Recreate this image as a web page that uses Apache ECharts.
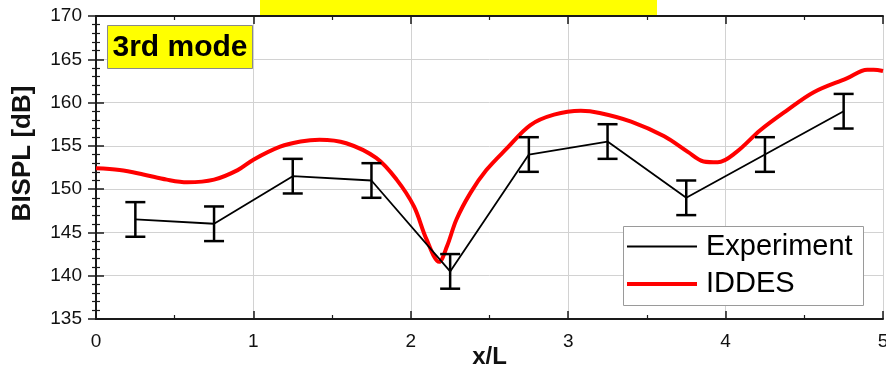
<!DOCTYPE html>
<html>
<head>
<meta charset="utf-8">
<script src="https://cdn.jsdelivr.net/npm/echarts@6/dist/echarts.min.js"></script>
<style>
html,body{margin:0;padding:0;background:#fff;}
#c{width:886px;height:368px;}
</style>
</head>
<body>
<div id="c"></div>
<script>
// ---- data ----
const expX = [0.25, 0.75, 1.25, 1.75, 2.25, 2.75, 3.25, 3.75, 4.25, 4.75];
const expY = [146.5, 146.0, 151.5, 151.0, 140.5, 154.0, 155.5, 149.0, 154.0, 159.0];
const expErr = [2, 2, 2, 2, 2, 2, 2, 2, 2, 2];
const iddesX = [0, 0.15, 0.3, 0.45, 0.58, 0.75, 0.9, 1.0, 1.17, 1.3, 1.42, 1.59, 1.78, 1.91, 2.02, 2.10, 2.18, 2.23, 2.29, 2.38, 2.48, 2.61, 2.76, 2.91, 3.08, 3.2, 3.4, 3.61, 3.76, 3.86, 3.95, 4.07, 4.22, 4.39, 4.56, 4.77, 4.9, 4.94, 5.0];
const iddesY = [152.4, 152.2, 151.7, 151.1, 150.8, 151.1, 152.2, 153.4, 154.9, 155.5, 155.7, 155.3, 153.6, 151.1, 148.0, 144.2, 141.6, 143.4, 146.5, 149.6, 152.2, 154.7, 157.4, 158.6, 159.05, 158.8, 157.8, 156.1, 154.3, 153.2, 153.1, 154.3, 156.8, 159.1, 161.2, 162.8, 163.8, 163.8, 163.65];
const xTicks = ['0', '1', '2', '3', '4', '5'];
const yTicks = ['135', '140', '145', '150', '155', '160', '165', '170'];
const seriesNames = ['Experiment', 'IDDES'];
const panelLabel = '3rd mode';
const xName = 'x/L';
const yName = 'BISPL [dB]';

const FONT = '"Liberation Sans", Arial, sans-serif';
const chart = echarts.init(document.getElementById('c'), null, {renderer: 'canvas'});

const expData = expX.map((x, i) => [x, expY[i]]);
const errData = expX.map((x, i) => [x, expY[i] - expErr[i], expY[i] + expErr[i]]);
const iddesData = iddesX.map((x, i) => [x, iddesY[i]]);

const axisLine = {show: true, lineStyle: {color: '#1a1a1a', width: 2}};
const tickStyle = {show: true, inside: true, length: 8, lineStyle: {color: '#1a1a1a', width: 1.5}};
const minorTick = (n) => ({show: true, splitNumber: n, length: 4, lineStyle: {color: '#1a1a1a', width: 1.2}});

chart.setOption({
  animation: false,
  backgroundColor: '#fff',
  grid: {left: 96, right: 3, top: 16, bottom: 49, containLabel: false, outerBoundsMode: 'none'},
  xAxis: [
    {
      type: 'value', min: 0, max: 5, interval: 1, position: 'bottom',
      axisLine: axisLine, axisTick: tickStyle, minorTick: minorTick(2),
      splitLine: {show: true, lineStyle: {color: '#d2d2d2', width: 1}},
      axisLabel: {color: '#111', fontSize: 19, fontFamily: FONT, margin: 13,
        formatter: (v) => xTicks[Math.round(v)]},
      name: xName, nameLocation: 'middle', nameGap: 26, nameMoveOverlap: false,
      nameTextStyle: {color: '#111', fontSize: 24, fontWeight: 'bold', fontFamily: FONT}
    },
    {
      type: 'value', min: 0, max: 5, interval: 1, position: 'top',
      axisLine: axisLine, axisTick: tickStyle, minorTick: minorTick(2),
      splitLine: {show: false}, axisLabel: {show: false}
    }
  ],
  yAxis: [
    {
      type: 'value', min: 135, max: 170, interval: 5, position: 'left',
      axisLine: axisLine, axisTick: tickStyle, minorTick: minorTick(5),
      splitLine: {show: true, lineStyle: {color: '#d2d2d2', width: 1}},
      axisLabel: {color: '#111', fontSize: 19, fontFamily: FONT, margin: 14,
        formatter: (v) => yTicks[Math.round((v - 135) / 5)]},
      name: yName, nameLocation: 'middle', nameGap: 60, nameMoveOverlap: false,
      nameTextStyle: {color: '#111', fontSize: 26, fontWeight: 'bold', fontFamily: FONT, padding: [0, 0, 0, 28]}
    },
    {
      type: 'value', min: 135, max: 170, interval: 5, position: 'right',
      axisLine: axisLine, axisTick: tickStyle, minorTick: minorTick(5),
      splitLine: {show: false}, axisLabel: {show: false}
    }
  ],
  series: [
    {
      name: seriesNames[1], type: 'line', data: iddesData, smooth: 0.35,
      showSymbol: false, symbol: 'none', clip: true,
      lineStyle: {color: '#ff0000', width: 4}, z: 3
    },
    {
      name: seriesNames[0], type: 'line', data: expData, smooth: false,
      showSymbol: false, symbol: 'none',
      lineStyle: {color: '#000', width: 1.8}, z: 4
    },
    {
      name: seriesNames[0] + ' error', type: 'custom', data: errData, z: 5,
      renderItem: function (params, api) {
        const x = api.value(0), lo = api.value(1), hi = api.value(2);
        const pH = api.coord([x, hi]);
        const pL = api.coord([x, lo]);
        const hw = 10;
        const st = {stroke: '#000', lineWidth: 2.5};
        return {
          type: 'group',
          children: [
            {type: 'line', shape: {x1: pH[0], y1: pH[1], x2: pL[0], y2: pL[1]}, style: st},
            {type: 'line', shape: {x1: pH[0] - hw, y1: pH[1], x2: pH[0] + hw, y2: pH[1]}, style: st},
            {type: 'line', shape: {x1: pL[0] - hw, y1: pL[1], x2: pL[0] + hw, y2: pL[1]}, style: st}
          ]
        };
      }
    }
  ],
  graphic: [
    {type: 'rect', z: 100, shape: {x: 260, y: 0, width: 397, height: 15}, style: {fill: '#ffff00'}},
    {type: 'rect', z: 100, shape: {x: 107.5, y: 25.5, width: 145, height: 43}, style: {fill: '#ffff00', stroke: '#8a8a8a', lineWidth: 1}},
    {type: 'text', z: 101, x: 180, y: 48, style: {text: panelLabel, fill: '#000', font: 'bold 30px ' + FONT, textAlign: 'center', textVerticalAlign: 'middle'}},
    {type: 'rect', z: 100, shape: {x: 623.5, y: 226.5, width: 240, height: 79}, style: {fill: '#ffffff', stroke: '#9a9a9a', lineWidth: 1}},
    {type: 'line', z: 101, shape: {x1: 627, y1: 246.5, x2: 697, y2: 246.5}, style: {stroke: '#000', lineWidth: 2}},
    {type: 'line', z: 101, shape: {x1: 627, y1: 284, x2: 697, y2: 284}, style: {stroke: '#ff0000', lineWidth: 4}},
    {type: 'text', z: 101, x: 706, y: 246.5, style: {text: seriesNames[0], fill: '#000', font: '29px ' + FONT, textAlign: 'left', textVerticalAlign: 'middle'}},
    {type: 'text', z: 101, x: 706, y: 284, style: {text: seriesNames[1], fill: '#000', font: '29px ' + FONT, textAlign: 'left', textVerticalAlign: 'middle'}}
  ]
});
</script>
</body>
</html>
